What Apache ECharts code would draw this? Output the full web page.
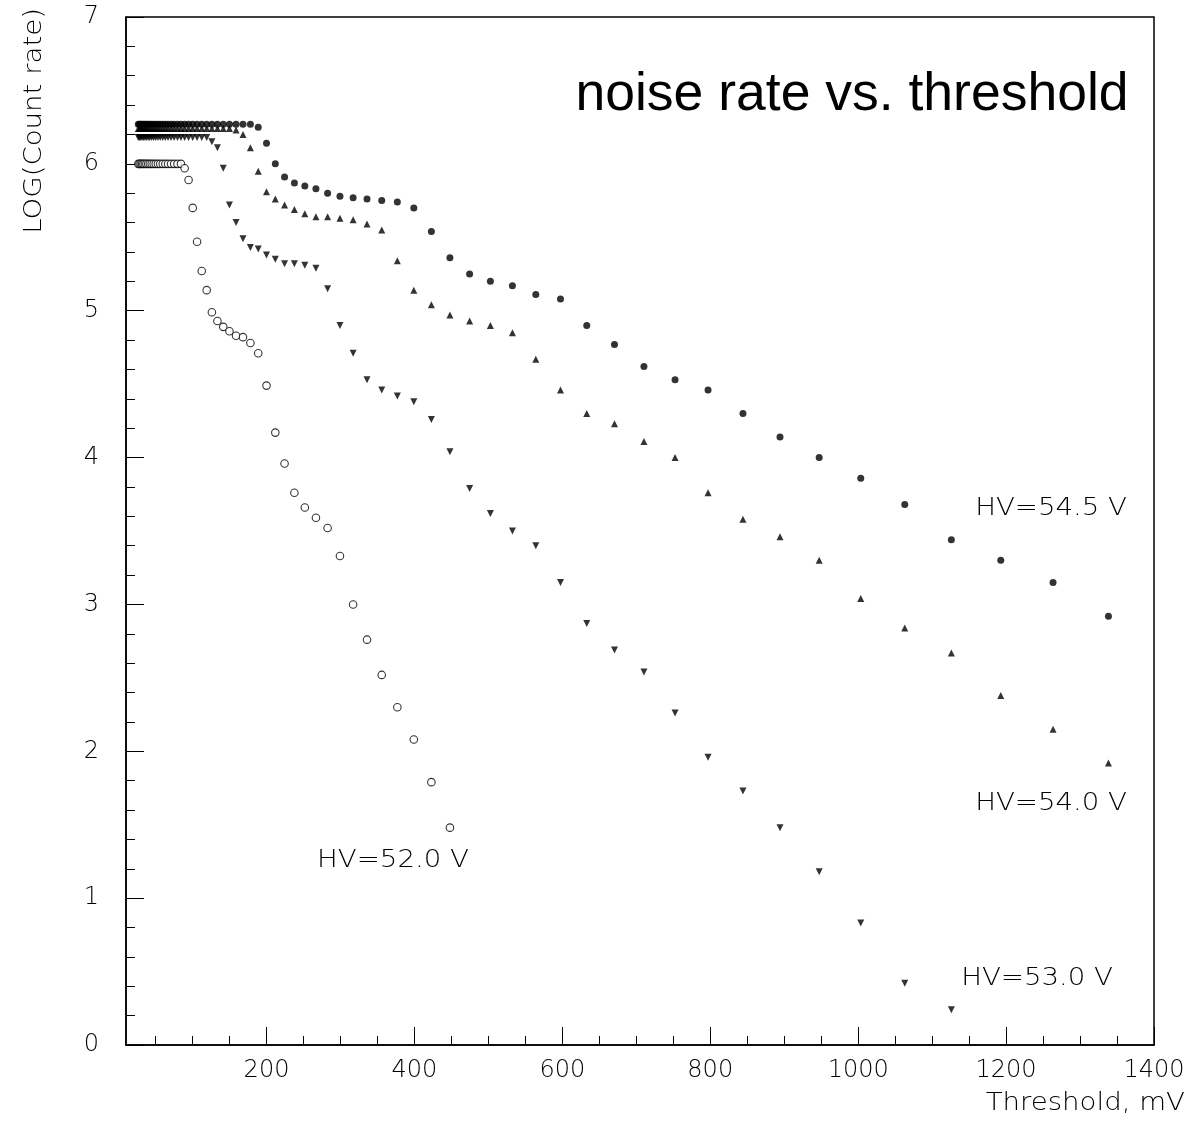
<!DOCTYPE html>
<html>
<head>
<meta charset="utf-8">
<script src="https://cdn.jsdelivr.net/npm/echarts@6/dist/echarts.min.js"></script>
<style>
  html, body { margin: 0; padding: 0; background: #fff; }
  #chart { width: 1191px; height: 1121px; }
</style>
</head>
<body>
<div id="chart"></div>
<script>
// Discriminator thresholds (mV), common to all bias-voltage scans
const thresholds = [
  26.6, 28.2, 29.9, 31.7, 33.5, 35.5, 37.6, 39.9, 42.2, 44.7,
  47.4, 50.2, 53.2, 56.3, 59.7, 63.2, 66.9, 70.9, 75.1, 79.6,
  84.3, 89.3, 94.6, 100.2, 106.1, 112.4, 119.1, 126.1, 133.6, 141.5,
  149.9, 158.8, 168.2, 178.2, 188.8, 200.0, 211.9, 224.4, 237.7, 251.8,
  266.8, 282.6, 299.3, 317.1, 335.9, 355.8, 376.9, 399.2, 422.9, 448.0,
  474.6, 502.7, 532.5, 564.1, 597.5, 633.0, 670.5, 710.3, 752.4, 797.0,
  844.2, 894.3, 947.3, 1003.5, 1063.0, 1126.0, 1192.8, 1263.5, 1338.4
];

// log10 of the noise count rate at each threshold
const hv545 = [
  6.27, 6.27, 6.27, 6.27, 6.27, 6.27, 6.27, 6.27, 6.27, 6.27,
  6.27, 6.27, 6.27, 6.27, 6.27, 6.27, 6.27, 6.27, 6.27, 6.27,
  6.27, 6.27, 6.27, 6.27, 6.27, 6.27, 6.27, 6.27, 6.27, 6.27,
  6.27, 6.27, 6.27, 6.27, 6.25, 6.14, 6.00, 5.91, 5.87, 5.85,
  5.83, 5.80, 5.78, 5.77, 5.76, 5.75, 5.74, 5.70, 5.54, 5.36,
  5.25, 5.20, 5.17, 5.11, 5.08, 4.90, 4.77, 4.62, 4.53, 4.46,
  4.30, 4.14, 4.00, 3.86, 3.68, 3.44, 3.30, 3.15, 2.92
];
const hv540 = [
  6.24, 6.24, 6.24, 6.24, 6.24, 6.24, 6.24, 6.24, 6.24, 6.24,
  6.24, 6.24, 6.24, 6.24, 6.24, 6.24, 6.24, 6.24, 6.24, 6.24,
  6.24, 6.24, 6.24, 6.24, 6.24, 6.24, 6.24, 6.24, 6.24, 6.24,
  6.24, 6.23, 6.20, 6.11, 5.95, 5.81, 5.76, 5.72, 5.69, 5.66,
  5.64, 5.64, 5.63, 5.62, 5.59, 5.55, 5.34, 5.14, 5.04, 4.97,
  4.93, 4.90, 4.85, 4.67, 4.46, 4.30, 4.23, 4.11, 4.00, 3.76,
  3.58, 3.46, 3.30, 3.04, 2.84, 2.67, 2.38, 2.15, 1.92
];
const hv530 = [
  6.18, 6.18, 6.18, 6.18, 6.18, 6.18, 6.18, 6.18, 6.18, 6.18,
  6.18, 6.18, 6.18, 6.18, 6.18, 6.18, 6.18, 6.18, 6.18, 6.18,
  6.18, 6.18, 6.18, 6.18, 6.18, 6.18, 6.18, 6.15, 6.11, 5.97,
  5.72, 5.60, 5.49, 5.43, 5.42, 5.38, 5.35, 5.32, 5.32, 5.31,
  5.29, 5.15, 4.90, 4.71, 4.53, 4.46, 4.42, 4.38, 4.26, 4.04,
  3.79, 3.62, 3.50, 3.40, 3.15, 2.87, 2.69, 2.54, 2.26, 1.96,
  1.73, 1.48, 1.18, 0.83, 0.42, 0.24
];
const hv520 = [
  6.00, 6.00, 6.00, 6.00, 6.00, 6.00, 6.00, 6.00, 6.00, 6.00,
  6.00, 6.00, 6.00, 6.00, 6.00, 6.00, 6.00, 6.00, 6.00, 6.00,
  6.00, 5.97, 5.89, 5.70, 5.47, 5.27, 5.14, 4.99, 4.93, 4.89,
  4.86, 4.83, 4.82, 4.78, 4.71, 4.49, 4.17, 3.96, 3.76, 3.66,
  3.59, 3.52, 3.33, 3.00, 2.76, 2.52, 2.30, 2.08, 1.79, 1.48
];

// Axis tick positions and labels
const xMajorTicks = [200, 400, 600, 800, 1000, 1200, 1400];
const xMinorTicks = [50, 100, 150, 250, 300, 350, 450, 500, 550, 650, 700, 750,
                     850, 900, 950, 1050, 1100, 1150, 1250, 1300, 1350];
const curveNames = ['HV=54.5 V', 'HV=54.0 V', 'HV=53.0 V', 'HV=52.0 V'];
const titleText = 'noise rate vs. threshold';
const xAxisTitle = 'Threshold, mV';
const yAxisTitle = 'LOG(Count rate)';

const thinFont = 'DejaVu Sans';

function toPoints(values) {
  return values.map((v, i) => [thresholds[i], v]);
}

const chart = echarts.init(document.getElementById('chart'), null, { renderer: 'canvas' });

const labelStyle = { fontFamily: thinFont, fontSize: 24, fontWeight: 200, color: '#000' };

// Thin, slightly widened text used for the curve tags and axis titles
function annotation(text, x, y, align, rotation) {
  return {
    type: 'text', x: x, y: y, rotation: rotation || 0, scaleX: 1.15, silent: true,
    style: {
      text: text, fill: '#000', align: align, verticalAlign: 'middle',
      fontFamily: thinFont, fontSize: 24, fontWeight: 200
    }
  };
}

const option = {
  animation: false,
  backgroundColor: '#fff',
  grid: {
    left: 126, top: 17, width: 1028, height: 1028,
    show: true, borderColor: '#000', borderWidth: 1.5
  },
  xAxis: [
    {
      type: 'value', min: 10, max: 1400, position: 'bottom',
      axisLine: { show: true, lineStyle: { color: '#000', width: 1.5 } },
      axisTick: { show: true, inside: true, length: 18, customValues: xMajorTicks,
                  lineStyle: { color: '#000', width: 1 } },
      axisLabel: Object.assign({
        margin: 14, customValues: xMajorTicks,
        formatter: function (v) { return String(v); }
      }, labelStyle),
      splitLine: { show: false }
    },
    {
      type: 'value', min: 10, max: 1400, position: 'bottom',
      axisLine: { show: false },
      axisTick: { show: true, inside: true, length: 9, customValues: xMinorTicks,
                  lineStyle: { color: '#000', width: 1 } },
      axisLabel: { show: false },
      splitLine: { show: false }
    }
  ],
  yAxis: {
    type: 'value', min: 0, max: 7, interval: 1,
    axisLine: { show: true, lineStyle: { color: '#000', width: 1.5 } },
    axisTick: { show: true, inside: true, length: 18, lineStyle: { color: '#000', width: 1 } },
    minorTick: { show: true, splitNumber: 5, length: 9, lineStyle: { color: '#000', width: 1 } },
    axisLabel: Object.assign({ margin: 27 }, labelStyle),
    splitLine: { show: false },
    minorSplitLine: { show: false }
  },
  series: [
    {
      name: curveNames[0], type: 'scatter', data: toPoints(hv545),
      symbol: 'circle', symbolSize: 7,
      itemStyle: { color: '#000' }, emphasis: { disabled: true }
    },
    {
      name: curveNames[1], type: 'scatter', data: toPoints(hv540),
      symbol: 'triangle', symbolSize: 7,
      itemStyle: { color: '#000' }, emphasis: { disabled: true }
    },
    {
      name: curveNames[2], type: 'scatter', data: toPoints(hv530),
      symbol: 'triangle', symbolRotate: 180, symbolSize: 7,
      itemStyle: { color: '#000' }, emphasis: { disabled: true }
    },
    {
      name: curveNames[3], type: 'scatter', data: toPoints(hv520),
      symbol: 'circle', symbolSize: 7.5,
      itemStyle: { color: '#fff', borderColor: '#000', borderWidth: 1.1 },
      emphasis: { disabled: true }
    }
  ],
  graphic: [
    {
      type: 'text', x: 852, y: 95, silent: true,
      style: {
        text: titleText, fill: '#000', align: 'center', verticalAlign: 'middle',
        fontFamily: 'Liberation Sans', fontSize: 53.5
      }
    },
    annotation(curveNames[0], 1127, 509, 'right'),
    annotation(curveNames[1], 1127, 804, 'right'),
    annotation(curveNames[2], 1113, 979, 'right'),
    annotation(curveNames[3], 393, 861, 'center'),
    annotation(xAxisTitle, 1185, 1104, 'right'),
    annotation(yAxisTitle, 35, 8, 'right', Math.PI / 2)
  ]
};

chart.setOption(option);
</script>
</body>
</html>
